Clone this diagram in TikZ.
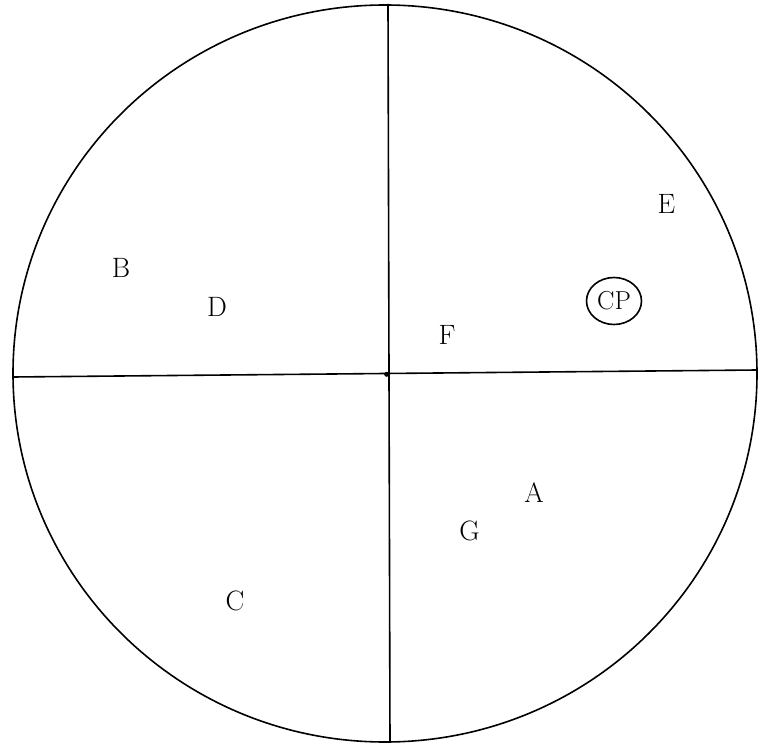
\documentclass[tikz,border=0pt]{standalone}
\usetikzlibrary{shapes.geometric}
\begin{document}
\begin{tikzpicture}[x=1pt,y=-1pt,
  lbl/.style={font=\fontsize{28}{32}\selectfont, inner sep=0pt},
  ring/.style={draw, line width=1.6pt, ellipse, minimum width=55pt, minimum height=47pt, inner sep=0pt, font=\fontsize{26}{30}\selectfont},
  edge/.style={line width=1.6pt}]
\useasboundingbox (0,0) rectangle (758,743);
\node[draw, edge, ellipse, minimum width=744pt, minimum height=737pt, inner sep=0pt] (rim) at (385,373.5) {};
\coordinate (top) at (388,4);
\coordinate (bot) at (390,744);
\coordinate (lft) at (13,377);
\coordinate (rgt) at (757,370);
\coordinate (o) at (386.7,374.3);
\draw[edge] (top) -- (bot);
\draw[edge] (lft) -- (rgt);
\fill (o) circle (2.5pt);
\node[lbl] (B) at (121,267.5) {B};
\node[lbl] (D) at (217,307) {D};
\node[lbl] (F) at (447,335) {F};
\node[lbl] (E) at (666.5,203.5) {E};
\node[ring] (CP) at (614,301) {CP};
\node[lbl] (A) at (534,493) {A};
\node[lbl] (G) at (469.5,531) {G};
\node[lbl] (C) at (235,601) {C};
\end{tikzpicture}
\end{document}
